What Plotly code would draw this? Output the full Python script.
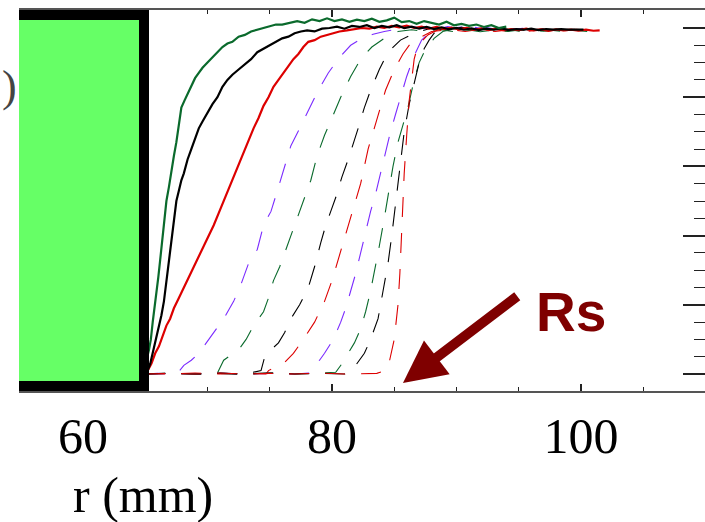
import plotly.graph_objects as go

# ---------------- data (r in mm, normalised signal) ----------------
solid_green = [(64.9,0.02),(65.1,0.04),(65.3,0.07),(65.45,0.10),(65.6,0.15),(65.75,0.19),(65.9,0.23),(66.05,0.28),(66.2,0.33),(66.4,0.40),(66.55,0.45),(66.7,0.50),(66.9,0.54),(67.1,0.59),(67.3,0.63),(67.5,0.67),(67.7,0.72),(67.9,0.77),(68.15,0.79),(68.4,0.81),(68.7,0.83),(69.0,0.855),(69.3,0.87),(69.6,0.885),(70.0,0.90),(70.4,0.915),(70.8,0.93),(71.2,0.945),(71.6,0.955),(72.0,0.96),(72.5,0.975),(73.0,0.98),(73.5,0.99),(74.0,0.995),(74.5,1.0),(75.0,1.005),(75.5,1.01),(76.0,1.01),(76.6,1.015),(77.2,1.02),(77.8,1.015),(78.4,1.025),(79.0,1.02),(79.6,1.028),(80.2,1.02),(80.8,1.025),(81.4,1.018),(82.0,1.024),(82.6,1.02),(83.2,1.027),(83.8,1.018),(84.4,1.022),(85.0,1.03),(85.6,1.017),(86.2,1.02),(86.8,1.012),(87.4,1.02),(88.0,1.014),(88.6,1.01),(89.2,1.018),(89.8,1.008),(90.4,1.012),(91.0,1.006),(91.6,1.01),(92.2,1.003),(92.8,1.008),(93.4,1.0),(94.0,1.004)]
solid_black = [(65.0,0.0),(65.2,0.01),(65.4,0.03),(65.6,0.06),(65.75,0.08),(65.9,0.11),(66.1,0.14),(66.3,0.17),(66.5,0.21),(66.7,0.27),(66.9,0.32),(67.1,0.38),(67.3,0.44),(67.5,0.50),(67.7,0.53),(67.9,0.56),(68.1,0.58),(68.4,0.62),(68.7,0.65),(69.0,0.68),(69.3,0.71),(69.6,0.73),(70.0,0.755),(70.4,0.78),(70.8,0.80),(71.2,0.83),(71.6,0.85),(72.0,0.865),(72.5,0.88),(73.0,0.895),(73.5,0.91),(74.0,0.93),(74.5,0.94),(75.0,0.95),(75.5,0.96),(76.0,0.97),(76.5,0.975),(77.0,0.985),(77.5,0.99),(78.0,0.993),(78.6,0.99),(79.2,0.998),(79.8,1.0),(80.4,1.004),(81.0,0.998),(81.6,1.006),(82.2,1.003),(82.8,1.008),(83.4,1.0),(84.0,1.006),(84.6,1.002),(85.2,1.008),(85.8,1.0),(86.4,1.004),(87.0,0.998),(87.6,1.003),(88.2,0.997),(88.8,1.002),(89.4,0.996),(90.0,1.0),(90.6,0.995),(91.2,0.999),(91.8,0.994),(92.4,0.998),(93.0,0.995),(93.6,0.999),(94.2,0.994),(94.8,0.997),(95.4,0.995),(96.0,0.998),(96.6,0.994),(97.2,0.997),(97.8,0.995),(98.4,0.997),(99.0,0.995),(99.6,0.996),(100.2,0.995)]
solid_red = [(64.9,0.0),(65.2,0.01),(65.5,0.03),(65.8,0.06),(66.1,0.08),(66.4,0.11),(66.7,0.14),(67.0,0.16),(67.3,0.19),(67.7,0.22),(68.1,0.25),(68.5,0.28),(68.9,0.31),(69.3,0.345),(69.7,0.37),(70.1,0.40),(70.5,0.43),(70.9,0.465),(71.3,0.50),(71.7,0.535),(72.1,0.57),(72.5,0.61),(72.9,0.64),(73.3,0.68),(73.7,0.71),(74.1,0.74),(74.5,0.775),(74.9,0.80),(75.3,0.83),(75.7,0.85),(76.1,0.87),(76.5,0.89),(76.9,0.91),(77.3,0.925),(77.7,0.945),(78.1,0.96),(78.6,0.965),(79.1,0.975),(79.6,0.98),(80.1,0.985),(80.6,0.99),(81.2,0.993),(81.8,0.996),(82.4,1.0),(83.0,0.998),(83.6,1.004),(84.2,1.0),(84.8,1.006),(85.4,1.002),(86.0,1.007),(86.6,1.0),(87.2,1.004),(87.8,0.998),(88.4,1.003),(89.0,0.997),(89.6,1.001),(90.2,0.996),(90.8,1.0),(91.4,0.995),(92.0,0.999),(92.6,0.994),(93.2,0.998),(93.8,0.993),(94.4,0.997),(95.0,0.994),(95.6,0.998),(96.2,0.993),(96.8,0.996),(97.4,0.992),(98.0,0.996),(98.6,0.993),(99.2,0.995),(99.8,0.992),(100.4,0.995),(101.0,0.992),(101.5,0.993)]

dashed_purple_1 = [(65.0,0),(66.0,0.002),(67.0,0),(67.6,0.003),(68.1,0.025),(68.7,0.04),(69.3,0.06),(69.9,0.09),(70.5,0.12),(71.3,0.16),(72.1,0.21),(72.7,0.26),(73.3,0.32),(74.0,0.36),(74.5,0.43),(75.1,0.47),(75.7,0.54),(76.2,0.60),(76.7,0.66),(77.4,0.71),(78.1,0.76),(78.9,0.82),(79.7,0.87),(80.6,0.915),(81.5,0.95),(82.4,0.97),(83.3,0.982),(84.2,0.99),(85.3,0.997),(86.4,1.004),(87.4,0.998),(88.4,1.005),(89.4,0.999),(90.4,1.003),(91.4,0.996),(92.4,1.001),(93.4,0.995),(94.4,0.999),(95.4,0.995),(96.4,0.998)]
dashed_green_1 = [(65.0,0),(67.0,0.002),(69.0,0),(70.8,0.003),(71.3,0.04),(71.9,0.055),(72.5,0.07),(73.1,0.10),(73.7,0.14),(74.5,0.18),(74.9,0.22),(75.3,0.27),(75.8,0.31),(76.3,0.36),(76.9,0.42),(77.5,0.48),(78.3,0.56),(78.8,0.63),(79.4,0.69),(80.0,0.74),(80.7,0.80),(81.5,0.86),(82.3,0.91),(83.2,0.945),(84.2,0.97),(85.3,0.99),(86.4,0.995),(87.5,0.99),(88.6,0.996),(89.7,0.99),(90.8,0.995),(91.9,0.989),(93.0,0.994),(94.1,0.99),(95.2,0.995),(96.3,0.99),(97.4,0.994),(98.5,0.99),(99.6,0.993),(100.5,0.99)]
dashed_black_1 = [(65.0,0),(67.0,0.003),(69.0,0),(71.0,0.002),(73.0,0),(74.3,0.01),(74.6,0.05),(75.1,0.07),(75.7,0.09),(76.2,0.12),(76.7,0.16),(77.4,0.20),(78.1,0.25),(78.6,0.31),(79.1,0.38),(79.5,0.43),(79.9,0.47),(80.3,0.51),(80.8,0.57),(81.3,0.62),(82.1,0.71),(82.6,0.77),(83.1,0.82),(83.8,0.88),(84.5,0.93),(85.5,0.965),(86.6,0.985),(88.0,1.0),(89.2,0.995),(90.4,1.002),(91.6,0.996),(92.8,1.0),(94.0,0.995),(95.2,0.999),(96.2,0.995),(97.0,0.998)]
dashed_red_1 = [(65.0,0),(67.0,0),(69.0,0.003),(71.0,0),(73.0,0.002),(74.7,0),(74.9,0.01),(75.5,0.02),(76.1,0.03),(76.9,0.06),(77.7,0.10),(78.6,0.15),(79.4,0.21),(80.0,0.27),(80.5,0.33),(81.0,0.39),(81.5,0.45),(82.3,0.55),(82.9,0.65),(83.3,0.70),(83.7,0.75),(84.3,0.82),(85.0,0.88),(85.7,0.925),(86.4,0.96),(87.2,0.975),(88.0,0.99),(89.5,0.995),(90.7,0.99),(91.9,0.996),(93.1,0.99),(94.3,0.995),(95.5,0.99),(96.7,0.994),(97.9,0.99),(99.0,0.993)]
dashed_purple_2 = [(65.0,0),(67.0,0.002),(69.0,0),(71.0,0.003),(73.0,0),(75.0,0.002),(77.0,0),(78.2,0.003),(78.5,0.02),(79.0,0.04),(79.4,0.06),(80.1,0.10),(80.7,0.15),(81.1,0.19),(81.5,0.24),(81.9,0.29),(82.3,0.35),(82.7,0.41),(83.1,0.47),(83.5,0.52),(83.9,0.58),(84.3,0.64),(84.7,0.70),(85.1,0.75),(85.5,0.80),(86.0,0.86),(86.6,0.92),(87.2,0.965),(87.8,0.985),(88.5,0.998),(89.3,1.004),(90.3,0.997),(91.3,1.003),(92.3,0.996),(93.3,1.0),(94.3,0.995),(95.3,0.999),(96.3,0.994),(97.0,0.997)]
dashed_green_2 = [(65.0,0),(67.0,0.002),(69.0,0),(71.0,0.003),(73.0,0),(75.0,0.003),(77.0,0),(79.0,0.002),(80.3,0.005),(80.8,0.03),(81.3,0.06),(81.8,0.09),(82.3,0.13),(82.7,0.18),(83.1,0.24),(83.5,0.31),(83.8,0.37),(84.2,0.45),(84.5,0.52),(84.9,0.60),(85.3,0.67),(85.7,0.72),(86.1,0.77),(86.6,0.85),(87.0,0.90),(87.4,0.93),(88.2,0.97),(88.9,0.99),(90.0,1.0),(91.0,0.993),(92.0,0.999),(93.0,0.992),(94.0,0.997),(95.0,0.991),(96.0,0.996),(97.0,0.991),(98.0,0.994)]
dashed_black_2 = [(65.0,0),(67.0,0.003),(69.0,0),(71.0,0.002),(73.0,0),(75.0,0.003),(77.0,0),(79.0,0.002),(81.0,0),(81.5,0.005),(81.8,0.02),(82.2,0.04),(82.6,0.06),(83.1,0.10),(83.7,0.16),(84.1,0.24),(84.5,0.32),(84.8,0.40),(85.0,0.46),(85.15,0.51),(85.5,0.61),(85.8,0.70),(86.2,0.78),(86.6,0.84),(87.0,0.90),(87.4,0.94),(87.8,0.965),(88.2,0.985),(89.5,1.0),(90.5,0.996),(91.5,1.001),(92.5,0.995),(93.5,0.999),(94.5,0.994),(95.5,0.998),(96.5,0.994),(97.5,0.997),(98.5,0.994),(99.5,0.996)]
dashed_red_2 = [(65.0,0),(67.0,0.002),(69.0,0),(71.0,0.003),(73.0,0),(75.0,0.002),(77.0,0),(79.0,0.003),(81.0,0),(83.6,0.002),(84.3,0.01),(84.6,0.035),(85.0,0.10),(85.3,0.20),(85.45,0.29),(85.55,0.37),(85.7,0.51),(85.8,0.58),(86.0,0.69),(86.2,0.79),(86.6,0.91),(86.9,0.95),(87.7,0.98),(88.5,0.995),(90.0,1.0),(91.2,0.994),(92.4,0.999),(93.6,0.993),(94.8,0.998),(96.0,0.993),(97.2,0.997),(98.4,0.992),(99.6,0.996),(101.0,0.993)]

x_tick_vals = [60, 80, 100]
x_tick_text = ["60", "80", "100"]
y_tick_vals = [0, 0.2, 0.4, 0.6, 0.8, 1.0]
x_title = "r (mm)"
arrow_label = "Rs"

GREEN = "#0a6a2c"
PURPLE = "#7b2bff"
RED = "#dd0000"
BLACK = "#000000"

dashed = [
    (dashed_purple_1, PURPLE), (dashed_green_1, GREEN), (dashed_black_1, BLACK), (dashed_red_1, RED),
    (dashed_purple_2, PURPLE), (dashed_green_2, GREEN), (dashed_black_2, BLACK), (dashed_red_2, RED),
]
solid = [(solid_red, RED), (solid_black, BLACK), (solid_green, GREEN)]

fig = go.Figure()
for pts, col in dashed:
    fig.add_trace(go.Scatter(x=[p[0] for p in pts], y=[p[1] for p in pts], mode="lines",
                             line=dict(color=col, width=1.1, dash="20px,16px"), showlegend=False))
for pts, col in solid:
    fig.add_trace(go.Scatter(x=[p[0] for p in pts], y=[p[1] for p in pts], mode="lines",
                             line=dict(color=col, width=2.2), showlegend=False))

# green block with thick black border (wall at r = 65 mm)
fig.add_shape(type="rect", xref="x", yref="y", x0=50, x1=64.9, y0=-0.0347, y1=1.0375,
              fillcolor="#66ff66", line=dict(color="black", width=10), layer="above")

# arrow pointing at Rs
fig.add_annotation(x=85.7, y=-0.026, ax=95.0, ay=0.228, xref="x", yref="y", axref="x", ayref="y",
                   text="", showarrow=True, arrowhead=2, arrowsize=0.85, arrowwidth=10, arrowcolor="#7f0000")
fig.add_annotation(x=99.2, y=0.179, xref="x", yref="y", text="<b>" + arrow_label + "</b>", showarrow=False,
                   font=dict(family="Liberation Sans", size=55, color="#7f0000"))
fig.add_annotation(x=(143 - 19) / 686, y=(391 - 495) / 381, xref="paper", yref="paper", text=x_title,
                   xanchor="center", yanchor="middle", showarrow=False,
                   font=dict(family="Liberation Serif", size=50, color="black"))
fig.add_annotation(x=(0 - 19) / 686, y=(391 - 86) / 381, xref="paper", yref="paper", text=")",
                   xanchor="left", yanchor="middle", showarrow=False,
                   font=dict(family="Liberation Serif", size=44, color="#444"))

fig.update_layout(
    width=705, height=522,
    margin=dict(l=19, r=0, t=10, b=131),
    paper_bgcolor="white", plot_bgcolor="white",
    xaxis=dict(range=[54.86, 109.96], tickmode="linear", tick0=x_tick_vals[0],
               dtick=x_tick_vals[1] - x_tick_vals[0],
               ticks="inside", ticklen=7, tickwidth=1.5, tickcolor="#222",
               minor=dict(dtick=5, ticks="inside", ticklen=4, tickwidth=1, tickcolor="#222"),
               showline=True, linecolor="#555", linewidth=2, mirror="allticks",
               showgrid=False, zeroline=False, ticklabelstandoff=0, automargin=False,
               tickfont=dict(family="Liberation Serif", size=50, color="black")),
    yaxis=dict(range=[-0.049, 1.052], side="right", tickmode="linear", tick0=y_tick_vals[0],
               dtick=y_tick_vals[1] - y_tick_vals[0], showticklabels=False,
               ticks="inside", ticklen=22, tickwidth=1.5, tickcolor="#222",
               minor=dict(dtick=0.05, ticks="inside", ticklen=11, tickwidth=1, tickcolor="#222"),
               showline=True, linecolor="#555", linewidth=2, mirror=False,
               showgrid=False, zeroline=False, automargin=False),
)

fig.write_html("out.html", config={"displayModeBar": False},
               post_script="document.body.style.margin='0';")
